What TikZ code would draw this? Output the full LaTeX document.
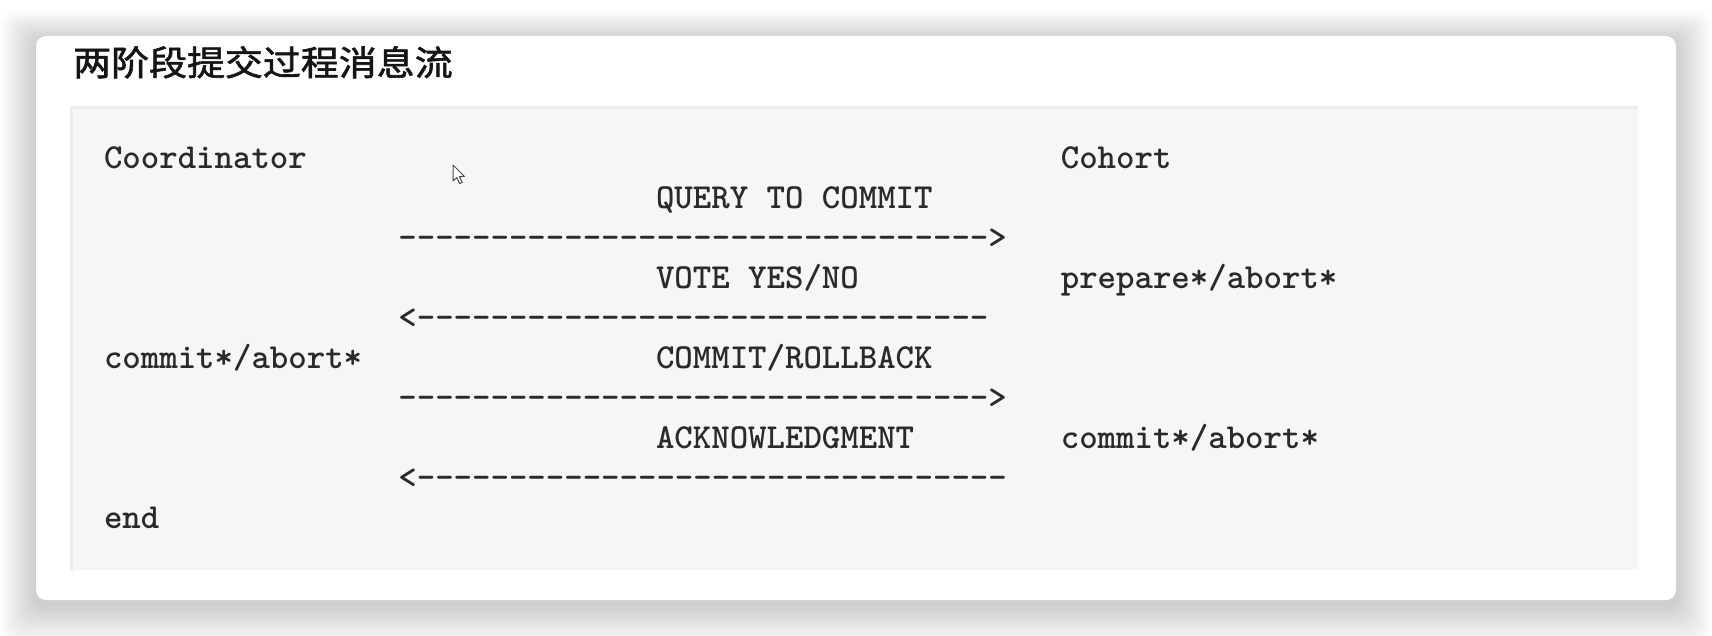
\documentclass[tikz,border=0pt]{standalone}
\usepackage{fontspec}
\newfontfamily\cjk{Noto Sans CJK SC}
\definecolor{codegray}{HTML}{2A2A2A}
\definecolor{boxfill}{HTML}{F6F6F8}
\definecolor{boxline}{HTML}{ECECEE}
\definecolor{titlecol}{HTML}{151515}
\tikzset{
  code/.style={anchor=base west, inner sep=0pt, outer sep=0pt, text=codegray,
    font=\ttfamily\bfseries\fontsize{35.12}{40}\selectfont},
  titletext/.style={anchor=base west, inner sep=0pt, text=titlecol,
    font=\cjk\fontsize{34.5}{40}\selectfont\addfontfeature{FakeBold=1.6}},
}
\begin{document}
\begin{tikzpicture}[x=1pt,y=-1pt]
\useasboundingbox (0,0) rectangle (1712,636);
\fill[white] (0,0) rectangle (1712,636);
% shadow
\foreach \i in {1,...,24}{
  \fill[black, opacity=0.0065, rounded corners=12pt]
    ({36-\i*1.5},{40-\i*1.2}) rectangle ({1676+\i*1.5},{606+\i*1.6});
}
% card
\fill[white, rounded corners=10pt] (36,36) rectangle (1676,600);
% title
\node[titletext] (title) at (73,75.5) {\scalebox{1.1}[1]{两阶段提交过程消息流}};
% code box
\fill[boxfill] (71,106) rectangle (1638,570);
\draw[boxline, line width=3pt] (71,571) -- (71,107.5) -- (1638,107.5);
% rows: baseline 169 + 39.9 k ; columns 104 + 18.4 c
\node[code] (coord)  at (104,169)   {Coordinator};
\node[code] (cohort) at (1060.8,169) {Cohort};
\node[code] (q)      at (656,208.9) {QUERY TO COMMIT};
\node[code] (a1)     at (398.4,248.8) {-------------------------------->};
\node[code] (v)      at (656,288.7) {VOTE YES/NO};
\node[code] (prep)   at (1060.8,288.7) {prepare*/abort*};
\node[code] (a2)     at (398.4,328.6) {<-------------------------------};
\node[code] (cca)    at (104,368.5) {commit*/abort*};
\node[code] (cr)     at (656,368.5) {COMMIT/ROLLBACK};
\node[code] (a3)     at (398.4,408.4) {-------------------------------->};
\node[code] (ack)    at (656,448.3) {ACKNOWLEDGMENT};
\node[code] (cca2)   at (1060.8,448.3) {commit*/abort*};
\node[code] (a4)     at (398.4,488.2) {<--------------------------------};
\node[code] (endn)   at (104,528.1) {end};
% mouse cursor
\coordinate (cur) at (453,165);
\draw[fill=white, draw=black!70, line width=1pt, line join=round, shift={(cur)}]
  (0,0) -- (0,16) -- (3.8,12.6) -- (6.6,18.6) -- (9.2,17.4) -- (6.4,11.6) -- (11.4,11.4) -- cycle;
\end{tikzpicture}
\end{document}
